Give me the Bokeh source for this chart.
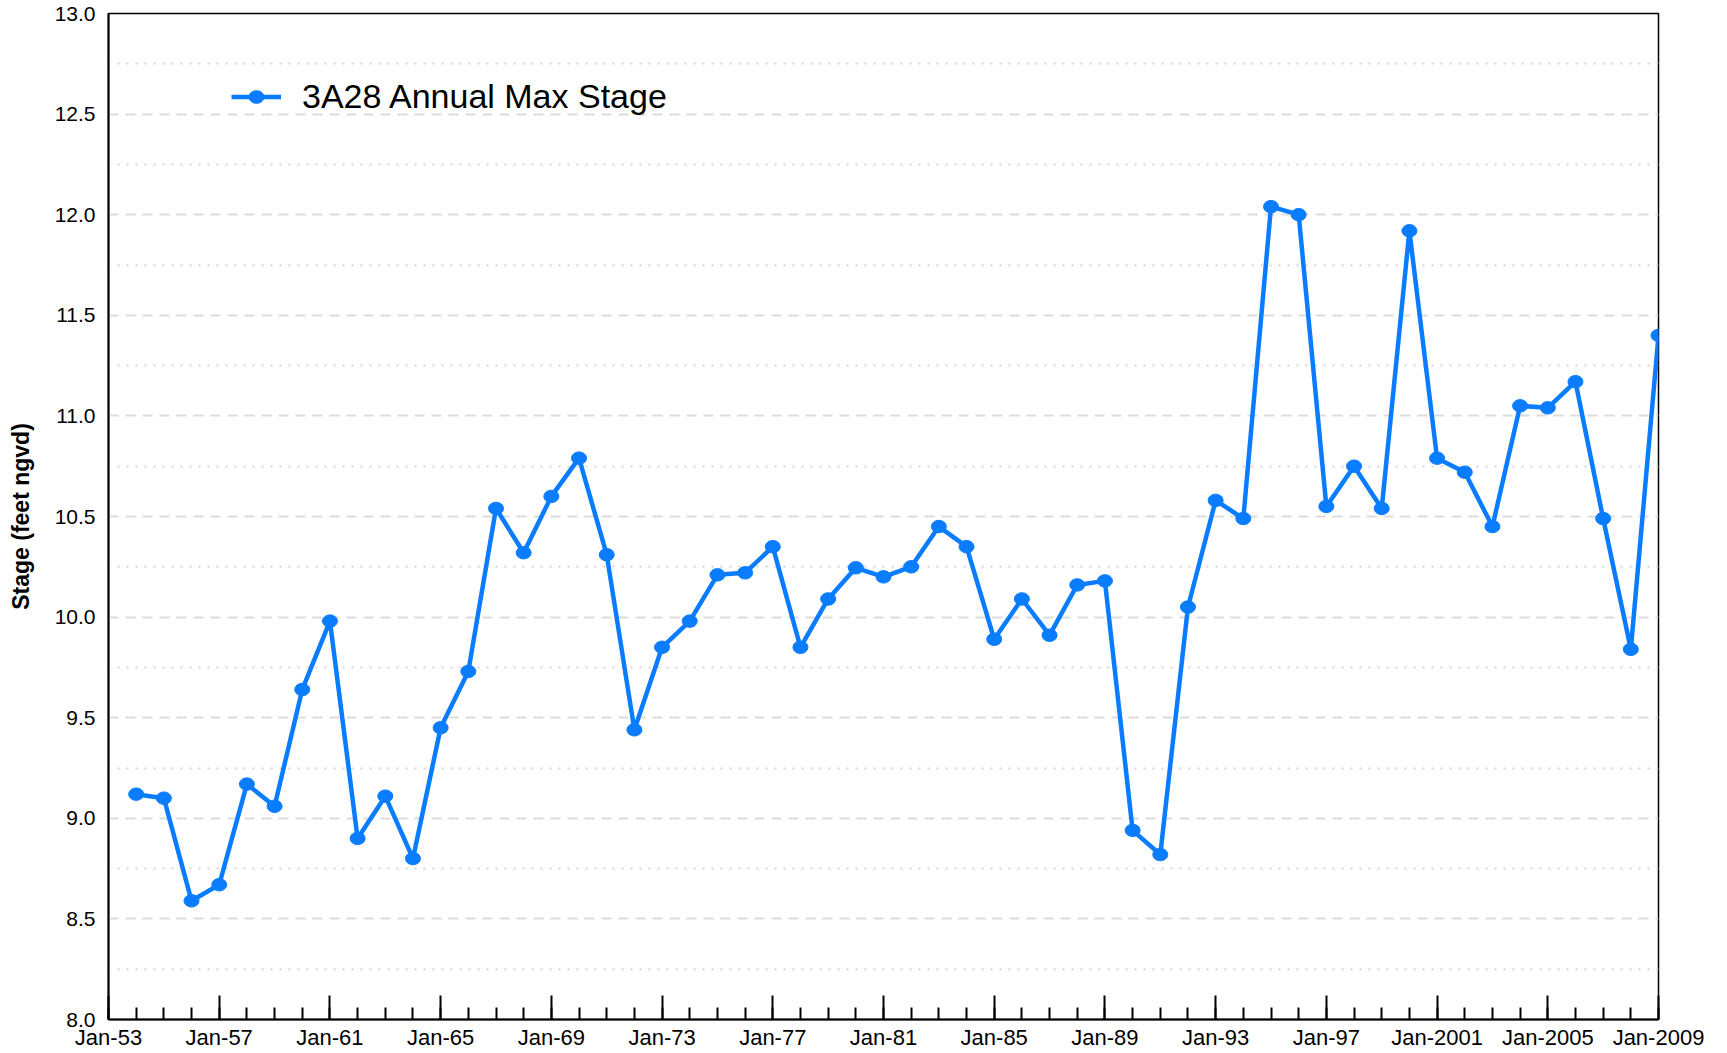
from bokeh.plotting import figure
from bokeh.models import Range1d, FixedTicker, Legend, LegendItem, ColumnDataSource
from bokeh.embed import file_html
from bokeh.resources import INLINE

# ---- data ----
years = list(range(1954, 2010))
stage = [9.12, 9.10, 8.59, 8.67, 9.17, 9.06, 9.64, 9.98, 8.90, 9.11,
         8.80, 9.45, 9.73, 10.54, 10.32, 10.60, 10.79, 10.31, 9.44, 9.85,
         9.98, 10.21, 10.22, 10.35, 9.85, 10.09, 10.245, 10.20, 10.25, 10.45,
         10.35, 9.89, 10.09, 9.91, 10.16, 10.18, 8.94, 8.82, 10.05, 10.58,
         10.49, 12.04, 12.00, 10.55, 10.75, 10.54, 11.92, 10.79, 10.72, 10.45,
         11.05, 11.04, 11.17, 10.49, 9.84, 11.40]
series_name = "3A28 Annual Max Stage"

x_major_ticks = [1953, 1957, 1961, 1965, 1969, 1973, 1977, 1981, 1985, 1989,
                 1993, 1997, 2001, 2005, 2009]
x_tick_labels = ["Jan-53", "Jan-57", "Jan-61", "Jan-65", "Jan-69", "Jan-73",
                 "Jan-77", "Jan-81", "Jan-85", "Jan-89", "Jan-93", "Jan-97",
                 "Jan-2001", "Jan-2005", "Jan-2009"]
x_minor_ticks = list(range(1953, 2010))

y_major_ticks = [8.0, 8.5, 9.0, 9.5, 10.0, 10.5, 11.0, 11.5, 12.0, 12.5, 13.0]
y_tick_labels = ["8.0", "8.5", "9.0", "9.5", "10.0", "10.5", "11.0", "11.5",
                 "12.0", "12.5", "13.0"]
y_minor_ticks = [8.25, 8.75, 9.25, 9.75, 10.25, 10.75, 11.25, 11.75, 12.25, 12.75]

y_axis_title = "Stage (feet ngvd)"

BLUE = "#0a7cff"
FONT = "Liberation Sans"

src = ColumnDataSource(dict(year=years, stage=stage))

p = figure(width=1727, height=1053, output_backend="svg", toolbar_location=None,
           x_range=Range1d(x_major_ticks[0], x_major_ticks[-1]),
           y_range=Range1d(y_major_ticks[0], y_major_ticks[-1]),
           min_border_left=108, min_border_right=69, min_border_top=13,
           min_border_bottom=34)
p.background_fill_color = "white"
p.border_fill_color = "white"
p.outline_line_color = "black"
p.outline_line_width = 1.5

# x axis
p.xaxis.ticker = FixedTicker(ticks=x_major_ticks, minor_ticks=x_minor_ticks)
p.xaxis.major_label_overrides = {t: l for t, l in zip(x_major_ticks, x_tick_labels)}
p.xaxis.major_tick_in = 24
p.xaxis.major_tick_out = 0
p.xaxis.minor_tick_in = 12
p.xaxis.minor_tick_out = 0
p.xaxis.major_tick_line_width = 2
p.xaxis.minor_tick_line_width = 2
p.xaxis.axis_line_width = 2
p.xaxis.axis_line_color = "black"
p.xaxis.major_tick_line_color = "black"
p.xaxis.minor_tick_line_color = "black"
p.xaxis.major_label_text_font = FONT
p.xaxis.major_label_text_font_size = "22px"
p.xaxis.major_label_text_color = "black"
p.xaxis.major_label_standoff = 5

# y axis
p.yaxis.ticker = FixedTicker(ticks=y_major_ticks, minor_ticks=y_minor_ticks)
p.yaxis.major_label_overrides = {t: l for t, l in zip(y_major_ticks, y_tick_labels)}
p.yaxis.major_tick_in = 0
p.yaxis.major_tick_out = 0
p.yaxis.minor_tick_in = 0
p.yaxis.minor_tick_out = 0
p.yaxis.axis_line_width = 2
p.yaxis.axis_line_color = "black"
p.yaxis.major_label_text_font = FONT
p.yaxis.major_label_text_font_size = "21px"
p.yaxis.major_label_text_color = "black"
p.yaxis.major_label_standoff = 13
p.yaxis.axis_label = y_axis_title
p.yaxis.axis_label_text_font = FONT
p.yaxis.axis_label_text_font_style = "bold"
p.yaxis.axis_label_text_font_size = "23px"
p.yaxis.axis_label_text_color = "black"
p.yaxis.axis_label_standoff = 18

# grids
p.xgrid.grid_line_color = None
p.ygrid.grid_line_color = "#dcdcdc"
p.ygrid.grid_line_width = 2
p.ygrid.grid_line_dash = "10 7"
p.ygrid.minor_grid_line_color = "#d4d4d4"
p.ygrid.minor_grid_line_width = 2
p.ygrid.minor_grid_line_dash = "2 7"

# data
line_r = p.line("year", "stage", source=src, line_color=BLUE, line_width=4.5)
dot_r = p.ellipse("year", "stage", source=src, width=15, height=12.5,
                  width_units="screen", height_units="screen",
                  fill_color=BLUE, line_color=BLUE)

legend = Legend(items=[LegendItem(label=series_name, renderers=[line_r, dot_r])],
                location=(123, 903), orientation="vertical",
                border_line_color=None, background_fill_alpha=0,
                padding=0, margin=0, spacing=0,
                glyph_width=50, glyph_height=19, label_height=19,
                label_standoff=21,
                label_text_font=FONT, label_text_font_size="34px",
                label_text_color="black")
p.add_layout(legend)

open("out.html", "w").write(file_html(p, INLINE))
